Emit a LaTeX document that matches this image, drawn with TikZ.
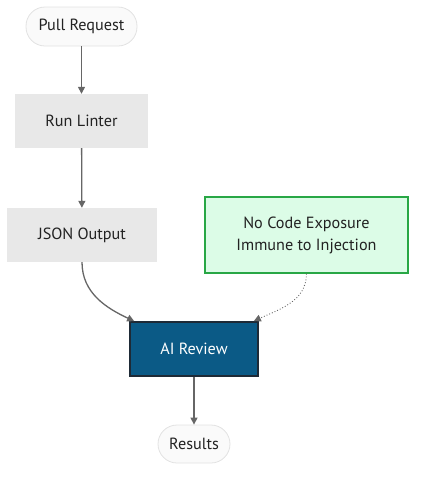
\documentclass[tikz,border=0pt]{standalone}
\usepackage{fontspec}
\setmainfont{PT Sans}
\usepackage{tikz}
\usetikzlibrary{arrows.meta, positioning}
\definecolor{pillfill}{HTML}{FAFAFA}
\definecolor{pillline}{HTML}{E2E2E2}
\definecolor{stepfill}{HTML}{E8E8E8}
\definecolor{notefill}{HTML}{DCFCE7}
\definecolor{noteline}{HTML}{28A745}
\definecolor{aifill}{HTML}{0B5A86}
\definecolor{ailine}{HTML}{1E2A36}
\definecolor{linkgray}{HTML}{666666}
\definecolor{textgray}{HTML}{222222}
\tikzset{%
	every box/.style={
		inner sep=0pt,
		font=\fontsize{16.2}{22}\selectfont,
		text=textgray,
		align=center
	},
	pill/.style={
		every box,
		rounded corners=19pt,
		fill=pillfill,
		draw=pillline,
		line width=0.8pt
	},
	stepbox/.style={
		every box,
		fill=stepfill,
		minimum height=54pt
	},
	link/.style={
		draw=linkgray,
		line width=1.3pt,
		-{Triangle[width=7pt,length=7pt]}
	},
}

\begin{document}
\begin{tikzpicture}[x=1pt,y=-1pt]
			\useasboundingbox (0,0) rectangle (423,480);
			
			% Draw the start and end pills
			\node[pill, minimum width=111pt, minimum height=39pt] (pr) at (81.5,26.5) {Pull Request};
			\node[pill, minimum width=72pt, minimum height=38pt] (res) at (194,444) {Results};
			
			% Draw the pipeline steps
			\node[stepbox, minimum width=133pt] (lint) at (81.5,121) {Run Linter};
			\node[stepbox, minimum width=150pt] (json) at (82,235) {JSON Output};
			
			% Draw the note box
			\node[every box, fill=notefill, draw=noteline, line width=1.3pt,
				minimum width=203pt, minimum height=76pt] (note) at (306.5,235)
				{No Code Exposure\\Immune to Injection};
			
			% Draw the review box
			\node[every box, fill=aifill, draw=ailine, line width=1.8pt, text=white,
				minimum width=128pt, minimum height=54pt] (review) at (194,349) {AI Review};
			
			% Draw the arrows
			\draw[link] (pr) -- (lint);
			\draw[link] (lint) -- (json);
			\draw[link] (json.south) to[out=-90, in=155] (review.155);
			\draw[link, line width=0.9pt, dotted] (note.south) to[out=-90, in=25] (review.25);
			\draw[link] (review) -- (res);
			
		\end{tikzpicture}
\end{document}
